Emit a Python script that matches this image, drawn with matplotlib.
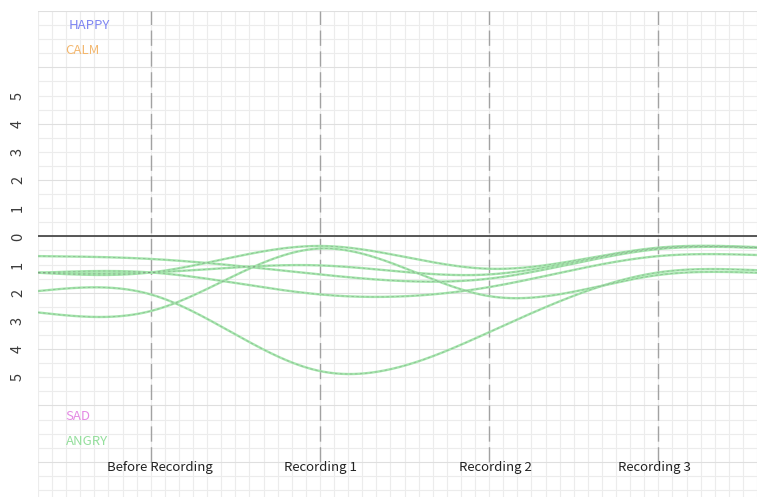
import numpy as np
import matplotlib
matplotlib.use("Agg")
import matplotlib.pyplot as plt

plt.rcParams['font.family'] = ['Noto Sans CJK SC', 'DejaVu Sans']

# Stages along the x axis (index positions), plus the visible start/end of the plot
stages = ["Before Recording", "Recording 1", "Recording 2", "Recording 3"]
knot_x = [-8 / 12, 0, 1, 2, 3, 3 + 7 / 12]

# Anger intensity per participant: plot start, four stages, plot end
anger_p1 = [0.70, 0.80, 1.35, 1.50, 0.45, 0.40]
anger_p2 = [1.29, 1.28, 0.34, 1.15, 0.40, 0.38]
anger_p3 = [1.29, 1.28, 1.03, 1.35, 0.42, 0.40]
anger_p4 = [1.29, 1.28, 2.06, 1.80, 0.70, 0.66]
anger_p5 = [2.70, 2.65, 0.43, 2.12, 1.37, 1.29]
anger_p6 = [1.94, 2.06, 4.78, 3.40, 1.28, 1.20]
series = [anger_p1, anger_p2, anger_p3, anger_p4, anger_p5, anger_p6]

level_ticks = [5, 4, 3, 2, 1, 0, -1, -2, -3, -4, -5]

mood_labels = ["HAPPY", "CALM", "SAD", "ANGRY"]
mood_colors = ["#7f86f2", "#f3b76e", "#e48ae4", "#94df9c"]


def natural_spline(xk, yk, xs):
    xk = np.asarray(xk, float)
    yk = np.asarray(yk, float)
    n = len(xk)
    h = np.diff(xk)
    A = np.zeros((n, n))
    r = np.zeros(n)
    A[0, 0] = 1
    A[-1, -1] = 1
    for i in range(1, n - 1):
        A[i, i - 1] = h[i - 1]
        A[i, i] = 2 * (h[i - 1] + h[i])
        A[i, i + 1] = h[i]
        r[i] = 3 * ((yk[i + 1] - yk[i]) / h[i] - (yk[i] - yk[i - 1]) / h[i - 1])
    c = np.linalg.solve(A, r)
    b = (yk[1:] - yk[:-1]) / h - h * (2 * c[:-1] + c[1:]) / 3
    d = (c[1:] - c[:-1]) / (3 * h)
    idx = np.clip(np.searchsorted(xk, xs) - 1, 0, n - 2)
    dx = xs - xk[idx]
    return yk[idx] + b[idx] * dx + c[idx] * dx ** 2 + d[idx] * dx ** 3


fig = plt.figure(figsize=(7.68, 5.0), dpi=100)
ax = fig.add_axes([38 / 768, 3 / 500, 719 / 768, 486 / 500])
x_lo, x_hi = knot_x[0], knot_x[-1]
ax.set_xlim(x_lo, x_hi)
ax.set_ylim(-9.25, 8.0)
ax.axis("off")

# background grid: fine cells, slightly stronger every two levels
for gx in np.arange(x_lo, x_hi + 1e-6, 1 / 12):
    ax.axvline(gx, color="#ececec", lw=0.8, zorder=0)
for gy in np.arange(8.0, -9.3, -0.5):
    strong = abs(gy - round(gy)) < 1e-6 and int(round(gy)) % 2 == 0
    ax.axhline(gy, color="#dfdfdf" if strong else "#ececec", lw=0.8, zorder=0)

# stage markers
for i in range(len(stages)):
    ax.plot([i, i], [-8.0, 8.0], color="#a2a2a2", lw=1.0, dashes=(11, 4), zorder=1)

# neutral baseline
ax.axhline(0, color="#4a4a4a", lw=1.3, zorder=2)

# participant curves (anger drawn below the baseline)
xs = np.linspace(x_lo, x_hi, 600)
for vals in series:
    ys = -natural_spline(knot_x, vals, xs)
    ax.plot(xs, ys, color="#a4e6ac", lw=1.7, zorder=3, solid_capstyle="round")
    ax.plot(xs, ys, color="#6a6a6a", lw=0.6, alpha=0.35, dashes=(3, 3), zorder=4)

# level labels on the left, rotated
for v in level_ticks:
    ax.text(-20 / 719, v, str(abs(v)), transform=ax.get_yaxis_transform(),
            rotation=90, ha="center", va="center", fontsize=10.5, color="#3a3a3a",
            clip_on=False)

# stage names, centred under their markers
stage_label_x = [0.053, 1.0, 2.04, 2.98]
for lx, name in zip(stage_label_x, stages):
    ax.text(lx, -8.2, name, ha="center", va="center", fontsize=9.5, color="#222222")

# mood captions
mood_pos = [(-0.485, 7.50), (-0.503, 6.60), (-0.503, -6.39), (-0.503, -7.28)]
for (mx, my), lab, col in zip(mood_pos, mood_labels, mood_colors):
    ax.text(mx, my, lab, ha="left", va="center", fontsize=9.5, color=col)

fig.savefig("out.png", dpi=100)
